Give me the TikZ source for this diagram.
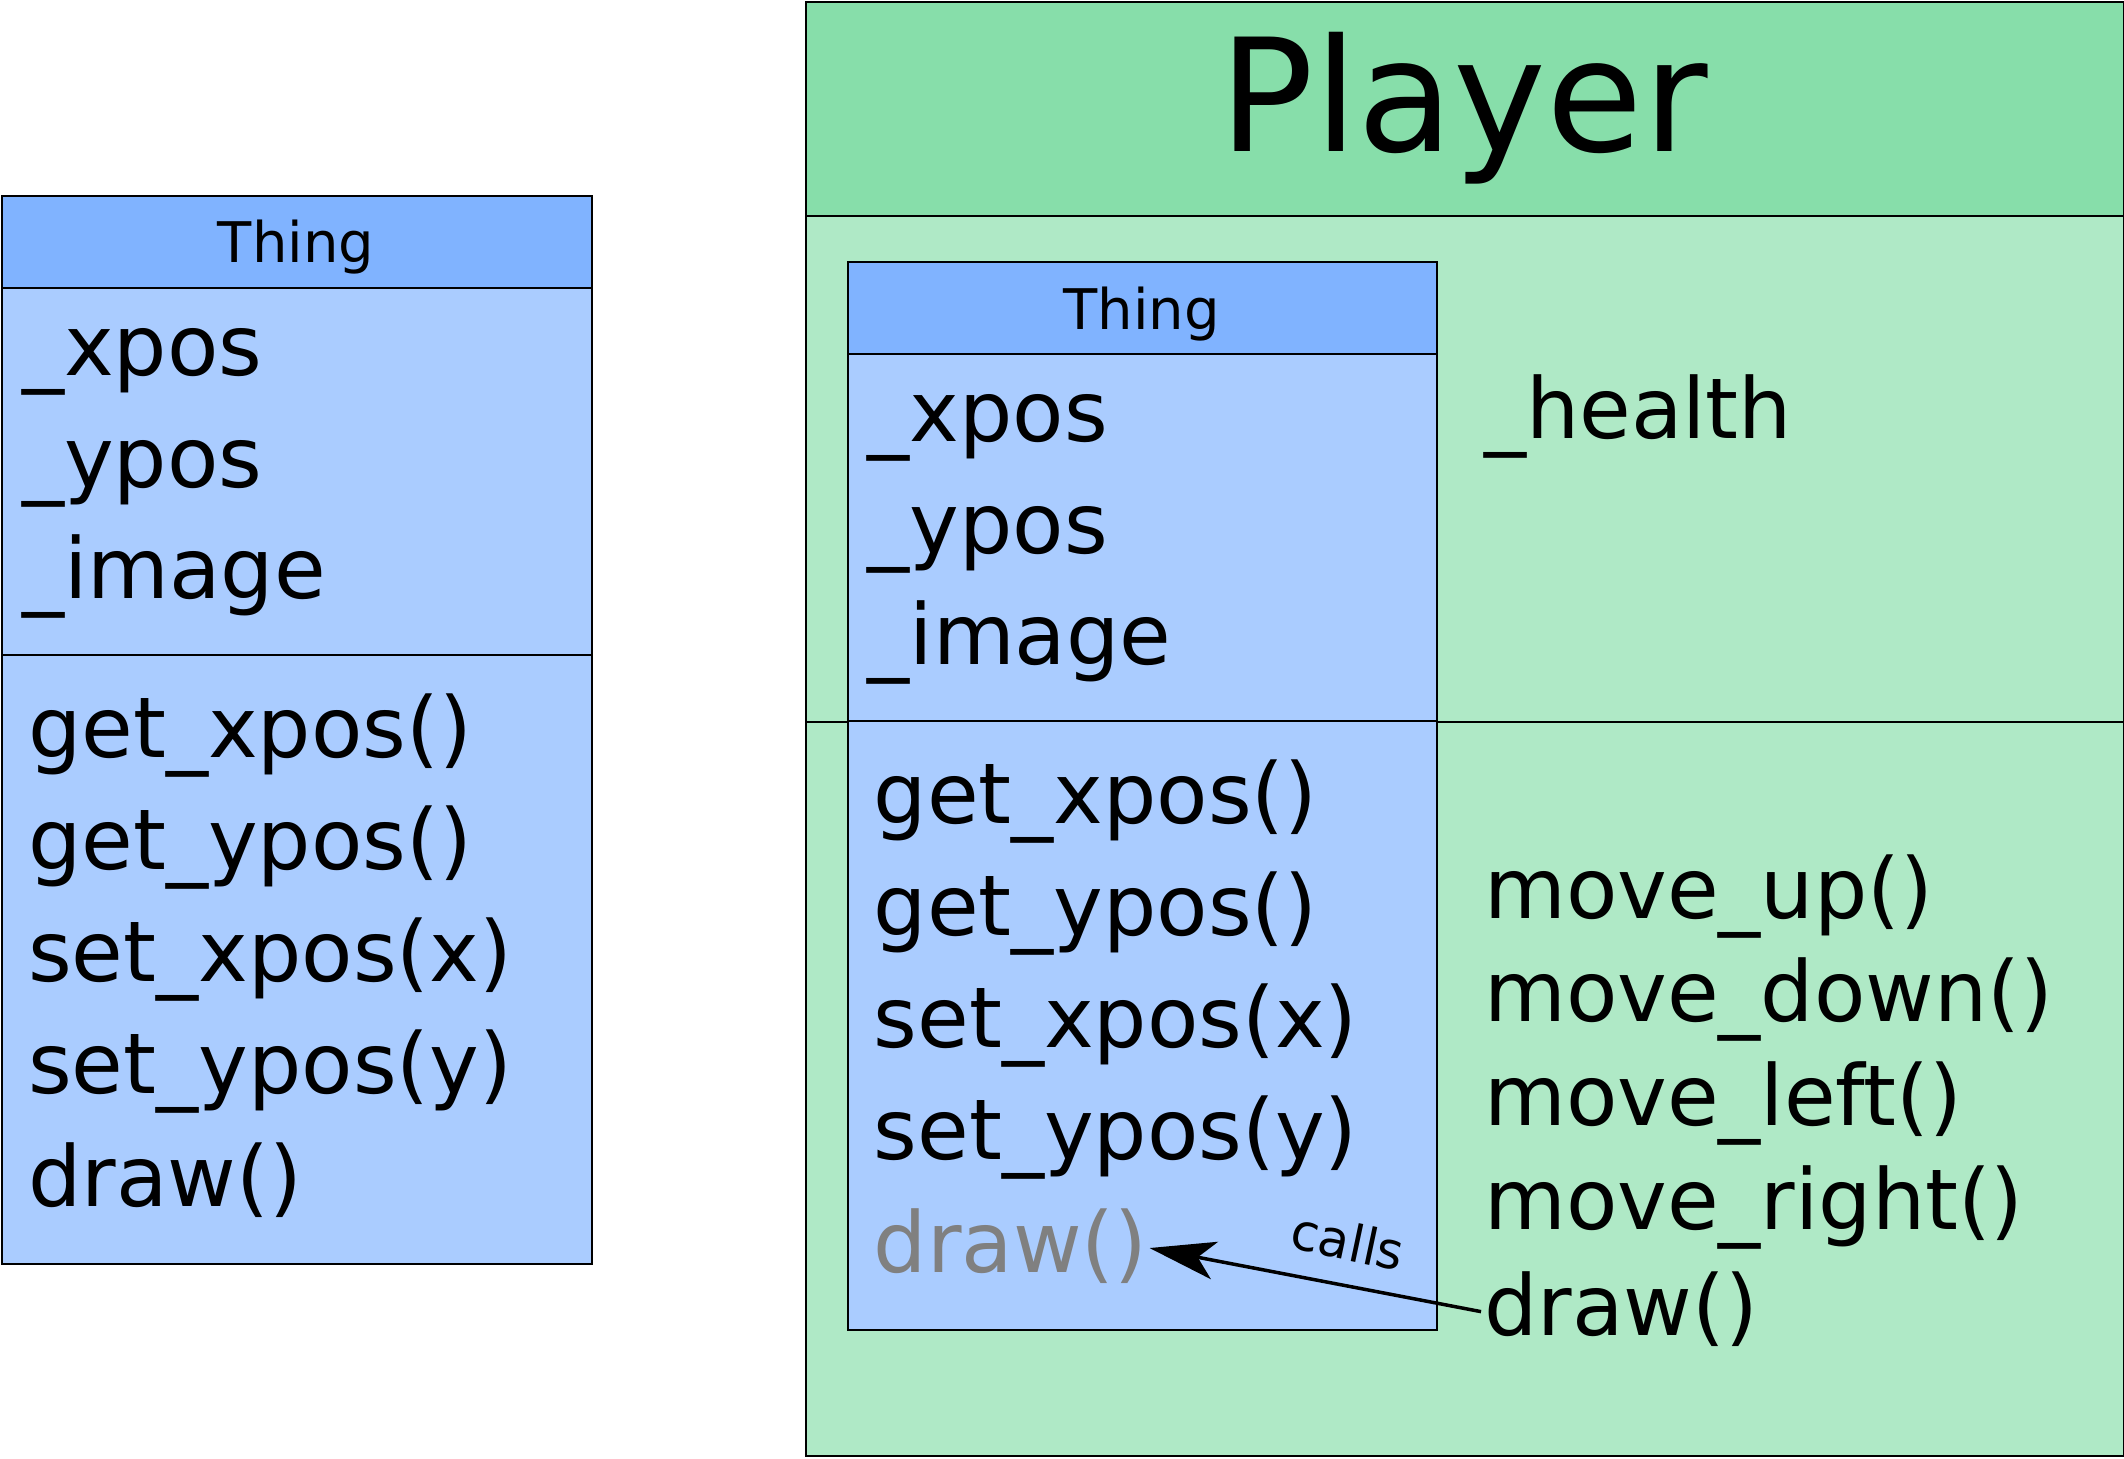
\documentclass[tikz,border=0pt]{standalone}
\usepackage{fontspec}
\setmainfont{DejaVu Sans}
\usetikzlibrary{arrows.meta}
\definecolor{hdrblue}{HTML}{80B3FF}
\definecolor{bodyblue}{HTML}{AACCFF}
\definecolor{hdrgreen}{HTML}{87DEAA}
\definecolor{bodygreen}{HTML}{AFE9C6}
\definecolor{inheritgray}{HTML}{808080}
\tikzset{
  compart/.style={draw=black, line width=2pt, inner sep=0pt, anchor=north west},
  member/.style={inner sep=0pt, anchor=base west, font=\fontsize{84}{104}\selectfont},
  title/.style={inner sep=0pt, anchor=base, font=\fontsize{56}{66}\selectfont},
  bigtitle/.style={inner sep=0pt, anchor=base, font=\fontsize{157}{180}\selectfont},
  callarrow/.style={line width=3.5pt, -{Stealth[length=66pt, width=38pt, inset=17pt]}},
}
\newcommand\thingbox[2]{%
  \node[compart, fill=hdrblue, minimum width=589.6pt, minimum height=92pt] (#1head) at (1,195) {};
  \node[compart, fill=bodyblue, minimum width=589.6pt, minimum height=367pt] (#1attr) at (1,287) {};
  \node[compart, fill=bodyblue, minimum width=589.6pt, minimum height=608.5pt] (#1meth) at (1,654) {};
  \node[title] (#1name) at (296,262.7) {Thing};
  \node[member] (#1xpos) at (22,375) {\_xpos};
  \node[member] (#1ypos) at (22,487) {\_ypos};
  \node[member] (#1image) at (22,598) {\_image};
  \node[member] (#1getx) at (28,757) {get\_xpos()};
  \node[member] (#1gety) at (28,869) {get\_ypos()};
  \node[member] (#1setx) at (28,981) {set\_xpos(x)};
  \node[member] (#1sety) at (28,1093) {set\_ypos(y)};
  \node[member, text=#2] (#1draw) at (28,1206) {draw()};
}
\begin{document}
\begin{tikzpicture}[x=1pt, y=-1pt]
\useasboundingbox (0,0) rectangle (2124,1458);
% standalone Thing
\thingbox{l}{black}
% Player
\node[compart, fill=hdrgreen, minimum width=1318pt, minimum height=215.4pt] (phead) at (804.6,1) {};
\node[compart, fill=bodygreen, minimum width=1318pt, minimum height=505.2pt] (pattr) at (804.6,215.4) {};
\node[compart, fill=bodygreen, minimum width=1318pt, minimum height=734.4pt] (pmeth) at (804.6,720.6) {};
\node[bigtitle] (pname) at (1463.6,152) {Player};
% inner Thing
\begin{scope}[shift={(845.6,66.4)}]
\thingbox{i}{inheritgray}
\end{scope}
% Player members
\node[member] (phealth) at (1484,438) {\_health};
\node[member] (pup) at (1484,918) {move\_up()};
\node[member] (pdown) at (1484,1021.5) {move\_down()};
\node[member] (pleft) at (1484,1125.5) {move\_left()};
\node[member] (pright) at (1484,1229.5) {move\_right()};
\node[member] (pdraw) at (1484,1335) {draw()};
% calls arrow
\draw[callarrow] ([xshift=-3pt, yshift=-3pt]pdraw.west) -- ([xshift=2pt, yshift=-2pt]idraw.east);
\node[inner sep=0pt, rotate=-12, font=\fontsize{51}{60}\selectfont] (calls) at (1348,1241) {calls};
\end{tikzpicture}
\end{document}
